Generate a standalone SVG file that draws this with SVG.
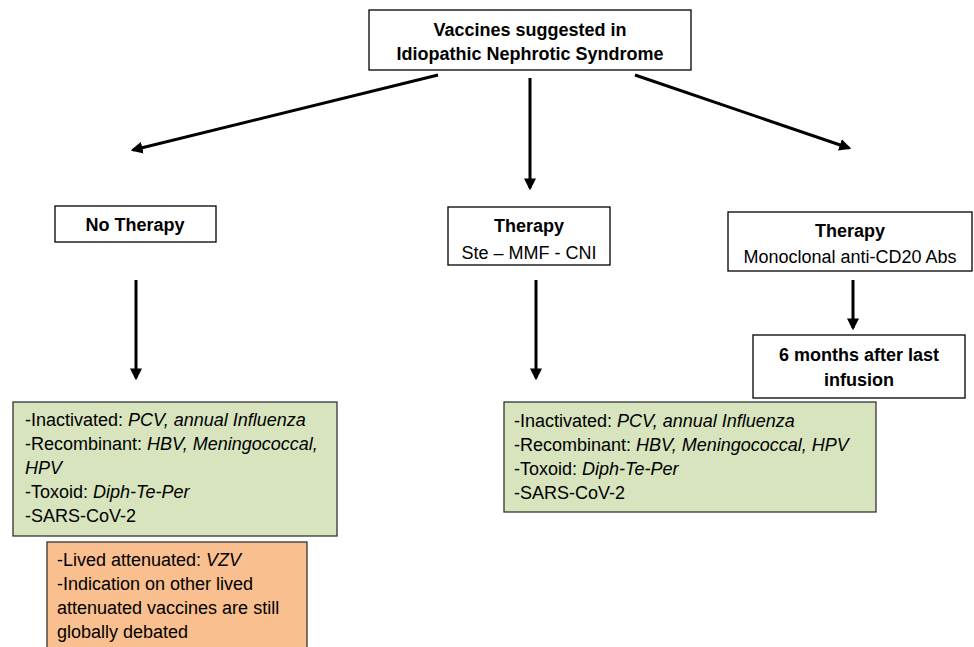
<svg xmlns="http://www.w3.org/2000/svg" width="974" height="647" viewBox="0 0 974 647">
<style>
text{font-family:"Liberation Sans",Arial,sans-serif;font-size:18px;fill:#000}
.b{font-weight:bold}
.c{text-anchor:middle}
.box{fill:#fff;stroke:#000;stroke-width:1.3}
.g{fill:#d7e4bd;stroke:#333;stroke-width:1.3}
.o{fill:#f9bf8f;stroke:#333;stroke-width:1.3}
.ln{stroke:#000;stroke-width:3;fill:none;marker-end:url(#ah)}
</style>
<defs>
<marker id="ah" viewBox="0 0 10 10" refX="8" refY="5" markerWidth="4" markerHeight="4" orient="auto" markerUnits="strokeWidth">
<path d="M0,0 L10,5 L0,10 z" fill="#000"/>
</marker>
</defs>
<rect width="974" height="647" fill="#fff"/>
<g id="connectors">
<line class="ln" x1="438" y1="75" x2="133" y2="150"/>
<line class="ln" x1="530" y1="78" x2="530" y2="188"/>
<line class="ln" x1="635" y1="75" x2="849" y2="148"/>
<line class="ln" x1="136" y1="280" x2="136" y2="378"/>
<line class="ln" x1="536" y1="280" x2="536" y2="378"/>
<line class="ln" x1="853" y1="280" x2="853" y2="328"/>
</g>
<g id="title">
<rect class="box" x="369" y="10" width="322" height="60"/>
<text class="b c" x="530" y="36">Vaccines suggested in</text>
<text class="b c" x="530" y="60">Idiopathic Nephrotic Syndrome</text>
</g>
<g id="no-therapy">
<rect class="box" x="55" y="206" width="161" height="36"/>
<text class="b c" x="135" y="231">No Therapy</text>
</g>
<g id="therapy-ste">
<rect class="box" x="448" y="207" width="162" height="58"/>
<text class="b c" x="529" y="232">Therapy</text>
<text class="c" x="529" y="259">Ste – MMF - CNI</text>
</g>
<g id="therapy-cd20">
<rect class="box" x="728" y="212" width="244" height="59"/>
<text class="b c" x="850" y="237">Therapy</text>
<text class="c" x="850" y="263">Monoclonal anti-CD20 Abs</text>
</g>
<g id="six-months">
<rect class="box" x="753" y="335" width="212" height="63"/>
<text class="b c" x="859" y="361">6 months after last</text>
<text class="b c" x="859" y="386">infusion</text>
</g>
<g id="vaccines-left">
<rect class="g" x="13" y="402" width="324" height="134"/>
<text x="25" y="426">-Inactivated: <tspan font-style="italic">PCV, annual Influenza</tspan></text>
<text x="25" y="450">-Recombinant: <tspan font-style="italic">HBV, Meningococcal,</tspan></text>
<text x="25" y="474" font-style="italic">HPV</text>
<text x="25" y="498">-Toxoid: <tspan font-style="italic">Diph-Te-Per</tspan></text>
<text x="25" y="522">-SARS-CoV-2</text>
</g>
<g id="live-attenuated">
<rect class="o" x="47" y="542" width="260" height="110"/>
<text x="57" y="566">-Lived attenuated: <tspan font-style="italic">VZV</tspan></text>
<text x="57" y="590">-Indication on other lived</text>
<text x="57" y="614">attenuated vaccines are still</text>
<text x="57" y="638">globally debated</text>
</g>
<g id="vaccines-mid">
<rect class="g" x="504" y="402" width="372" height="110"/>
<text x="514" y="427">-Inactivated: <tspan font-style="italic">PCV, annual Influenza</tspan></text>
<text x="514" y="451">-Recombinant: <tspan font-style="italic">HBV, Meningococcal, HPV</tspan></text>
<text x="514" y="475">-Toxoid: <tspan font-style="italic">Diph-Te-Per</tspan></text>
<text x="514" y="499">-SARS-CoV-2</text>
</g>
</svg>
